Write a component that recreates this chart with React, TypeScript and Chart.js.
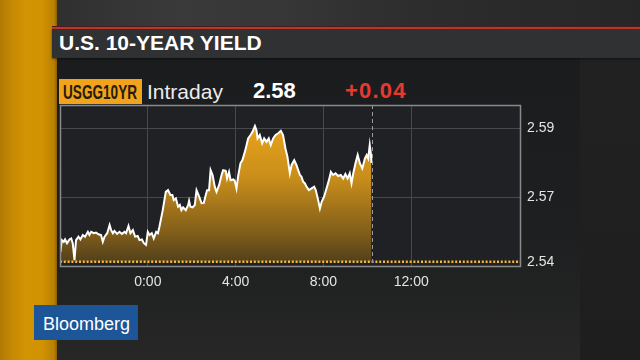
import React, { useEffect, useRef } from "react";
import { Chart, registerables } from "chart.js";

Chart.register(...registerables);

const TITLE = "U.S. 10-YEAR YIELD";
const TICKER = "USGG10YR";
const PERIOD = "Intraday";
const LAST_VALUE = "2.58";
const NET_CHANGE = "+0.04";
const PREV_CLOSE_LABEL = "2.54";
const BRAND = "Bloomberg";

// time in hours relative to midnight (negative = previous evening)
const HOURS = [
  -3.98, -3.92, -3.83, -3.77, -3.68, -3.57, -3.49, -3.42, -3.34, -3.27,
  -3.16, -3.07, -2.96, -2.86, -2.73, -2.66, -2.58, -2.46, -2.36, -2.25,
  -2.13, -2.05, -1.97, -1.85, -1.74, -1.67, -1.59, -1.52, -1.4, -1.29,
  -1.18, -1.06, -0.99, -0.88, -0.79, -0.68, -0.58, -0.46, -0.38, -0.27,
  -0.18, -0.08, 0.0, 0.08, 0.18, 0.27, 0.38, 0.46, 0.53, 0.68,
  0.82, 0.92, 1.03, 1.12, 1.18, 1.28, 1.38, 1.46, 1.53, 1.61,
  1.73, 1.84, 1.88, 1.94, 2.04, 2.14, 2.22, 2.34, 2.45, 2.55,
  2.64, 2.7, 2.79, 2.86, 2.95, 3.05, 3.13, 3.25, 3.36, 3.43,
  3.55, 3.61, 3.7, 3.77, 3.89, 3.96, 4.04, 4.11, 4.22, 4.31,
  4.42, 4.5, 4.57, 4.68, 4.77, 4.88, 4.95, 5.0, 5.1, 5.21,
  5.3, 5.41, 5.51, 5.6, 5.71, 5.82, 5.94, 6.06, 6.16, 6.27,
  6.36, 6.47, 6.55, 6.67, 6.77, 6.85, 6.93, 7.0, 7.08, 7.15,
  7.23, 7.34, 7.46, 7.58, 7.65, 7.76, 7.84, 7.92, 8.03, 8.14,
  8.25, 8.34, 8.44, 8.55, 8.67, 8.79, 8.9, 9.0, 9.1, 9.2,
  9.28, 9.36, 9.46, 9.56, 9.66, 9.77, 9.89, 9.97, 10.04, 10.11,
  10.16, 10.19,
];

const YIELDS = [
  2.5541, 2.5575, 2.557, 2.5577, 2.5566, 2.5577, 2.558, 2.5566, 2.5517, 2.5575,
  2.5585, 2.5577, 2.559, 2.5585, 2.5599, 2.559, 2.5599, 2.5595, 2.5597, 2.5592,
  2.559, 2.557, 2.5585, 2.5595, 2.5619, 2.5604, 2.5595, 2.5602, 2.5593, 2.5599,
  2.5593, 2.5599, 2.5595, 2.5616, 2.5595, 2.5604, 2.5585, 2.5587, 2.5575, 2.5577,
  2.5566, 2.5561, 2.5599, 2.559, 2.5595, 2.558, 2.5599, 2.5595, 2.5614, 2.5662,
  2.5715, 2.572, 2.5706, 2.5706, 2.5691, 2.5696, 2.5672, 2.5677, 2.5662, 2.567,
  2.5662, 2.5677, 2.5689, 2.5672, 2.567, 2.5677, 2.572, 2.5701, 2.5682, 2.5683,
  2.5706, 2.572, 2.572, 2.5778, 2.5764, 2.573, 2.5715, 2.5735, 2.5764, 2.5778,
  2.5776, 2.5754, 2.5773, 2.5749, 2.5751, 2.5747, 2.5725, 2.5759, 2.5798, 2.5807,
  2.5831, 2.5851, 2.587, 2.588, 2.5889, 2.5906, 2.5894, 2.587, 2.588, 2.5856,
  2.587, 2.586, 2.587, 2.5851, 2.587, 2.588, 2.5885, 2.5892, 2.588, 2.5841,
  2.5817, 2.5769, 2.5793, 2.5807, 2.5793, 2.5778, 2.5764, 2.5759, 2.5744, 2.574,
  2.573, 2.572, 2.5725, 2.573, 2.572, 2.5691, 2.5667, 2.5686, 2.5701, 2.5725,
  2.5749, 2.5773, 2.5764, 2.5769, 2.5761, 2.5764, 2.5754, 2.5767, 2.5754, 2.5769,
  2.574, 2.5769, 2.5798, 2.5822, 2.5798, 2.5783, 2.5812, 2.5822, 2.5812, 2.5851,
  2.5827, 2.5799,
];

const X_TICKS = [0, 4, 8, 12];
const X_LABELS = ["0:00", "4:00", "8:00", "12:00"];
const X_MIN = -4;
const X_MAX = 17;
const Y_TICKS = [2.57, 2.59];
const Y_MIN = 2.5497;
const Y_MAX = 2.5967;
// previous close (2.54) is below the visible range; it is pinned at the chart floor
const BASELINE = 2.5512;
const NOW_HOUR = 10.2;

const FONT = "'Liberation Sans', Arial, Helvetica, sans-serif";

const framePlugin = {
  id: "frame",
  beforeDraw(chart: any) {
    const { ctx, chartArea: a } = chart;
    ctx.save();
    ctx.fillStyle = "#1f2124";
    ctx.fillRect(a.left, a.top, a.right - a.left, a.bottom - a.top);
    ctx.restore();
  },
  afterDatasetsDraw(chart: any) {
    const { ctx, chartArea: a, scales } = chart;
    const x = Math.round(scales.x.getPixelForValue(NOW_HOUR)) + 0.5;
    ctx.save();
    ctx.strokeStyle = "#9a9a9a";
    ctx.lineWidth = 1;
    ctx.setLineDash([4, 3]);
    ctx.beginPath();
    ctx.moveTo(x, a.top);
    ctx.lineTo(x, a.bottom);
    ctx.stroke();
    ctx.setLineDash([]);
    ctx.strokeStyle = "#8a8a8a";
    ctx.lineWidth = 1.5;
    ctx.strokeRect(a.left + 0.5, a.top + 0.5, a.right - a.left - 1, a.bottom - a.top - 1);
    ctx.restore();
  },
};

function YieldChart() {
  const ref = useRef<HTMLCanvasElement | null>(null);
  useEffect(() => {
    if (!ref.current) return;
    const points = HOURS.map((h, i) => ({ x: h, y: YIELDS[i] }));
    const chart = new Chart(ref.current, {
      type: "line",
      data: {
        datasets: [
          {
            data: [
              { x: X_MIN, y: BASELINE },
              { x: X_MAX, y: BASELINE },
            ],
            borderColor: "#f5b83a",
            borderWidth: 2.5,
            borderDash: [2, 1.8],
            pointRadius: 0,
            fill: false,
          },
          {
            data: points,
            borderColor: "#ffffff",
            borderWidth: 2,
            pointRadius: 0,
            tension: 0,
            fill: { value: BASELINE },
            backgroundColor: (c: any) => {
              const area = c.chart.chartArea;
              if (!area) return "#b07a18";
              const g = c.chart.ctx.createLinearGradient(0, area.top, 0, area.bottom);
              g.addColorStop(0, "#f2ab1c");
              g.addColorStop(0.45, "#c98e1a");
              g.addColorStop(0.8, "#7e5c1a");
              g.addColorStop(1, "#4a3a1b");
              return g;
            },
          },
        ],
      },
      options: {
        animation: false,
        responsive: false,
        maintainAspectRatio: false,
        layout: { padding: { left: 10, top: 15, right: 0, bottom: 0 } },
        plugins: { legend: { display: false }, tooltip: { enabled: false } },
        scales: {
          x: {
            type: "linear",
            min: X_MIN,
            max: X_MAX,
            afterBuildTicks: (s: any) => {
              s.ticks = X_TICKS.map((v) => ({ value: v }));
            },
            afterFit: (s: any) => {
              s.height = 33;
            },
            ticks: {
              color: "#e4e4e4",
              font: { family: FONT, size: 14 },
              padding: 7,
              maxRotation: 0,
              autoSkip: false,
              callback: (v: any) => {
                const i = X_TICKS.indexOf(Number(v));
                return i >= 0 ? X_LABELS[i] : "";
              },
            },
            grid: { color: "#47494d", lineWidth: 1, drawTicks: false },
            border: { display: false },
          },
          y: {
            type: "linear",
            position: "right",
            min: Y_MIN,
            max: Y_MAX,
            afterBuildTicks: (s: any) => {
              s.ticks = [BASELINE, ...Y_TICKS].map((v) => ({ value: v }));
            },
            afterFit: (s: any) => {
              s.width = 59;
            },
            ticks: {
              color: "#e4e4e4",
              font: { family: FONT, size: 14 },
              padding: 6,
              autoSkip: false,
              callback: (v: any) => {
                const n = Number(v);
                if (Math.abs(n - BASELINE) < 1e-6) return PREV_CLOSE_LABEL;
                return n.toFixed(2);
              },
            },
            grid: {
              color: (c: any) =>
                c.tick && Math.abs(c.tick.value - BASELINE) < 1e-6 ? "rgba(0,0,0,0)" : "#47494d",
              lineWidth: 1,
              drawTicks: false,
            },
            border: { display: false },
          },
        },
      },
      plugins: [framePlugin],
    } as any);
    return () => chart.destroy();
  }, []);
  return (
    <canvas
      ref={ref}
      width={530}
      height={210}
      style={{ position: "absolute", left: 50, top: 90, width: 530, height: 210, display: "block" }}
    />
  );
}

const abs = (o: React.CSSProperties): React.CSSProperties => ({ position: "absolute", ...o });

export default function App() {
  return (
    <div
      style={{
        position: "fixed",
        left: 0,
        top: 0,
        width: 640,
        height: 360,
        overflow: "hidden",
        background: "#232425",
        fontFamily: FONT,
      }}
    >
      {/* top backdrop */}
      <div
        style={abs({
          left: 0,
          top: 0,
          width: 640,
          height: 28,
          background:
            "linear-gradient(to right, #2b2b2b 0%, #333 15%, #3a3a3a 28%, #363636 45%, #2d2d2d 65%, #262626 100%)",
        })}
      />
      {/* panel */}
      <div
        style={abs({
          left: 57,
          top: 58,
          width: 523,
          height: 302,
          background: "linear-gradient(to bottom, #1b1c1e 0%, #1e1f20 60%, #272727 100%)",
        })}
      />
      {/* right side */}
      <div
        style={abs({
          left: 580,
          top: 58,
          width: 60,
          height: 302,
          background: "linear-gradient(to bottom, #212121, #1e1e1e)",
        })}
      />
      {/* orange stripe */}
      <div
        style={abs({
          left: 0,
          top: 0,
          width: 57,
          height: 360,
          background:
            "linear-gradient(to right, #b27a04 0%, #c48804 20%, #d29402 45%, #d09200 75%, #b87f02 95%, #8a5e00 100%)",
        })}
      />
      {/* red rule */}
      <div style={abs({ left: 52, top: 26, width: 588, height: 1, background: "#4a1c1a" })} />
      <div style={abs({ left: 52, top: 27, width: 588, height: 2.5, background: "#c2342c" })} />
      {/* title bar */}
      <div
        style={abs({
          left: 52,
          top: 29,
          width: 588,
          height: 29,
          background: "#2f3133",
          boxShadow: "0 1px 2px rgba(0,0,0,0.5)",
        })}
      />
      <div
        style={abs({
          left: 59,
          top: 32,
          fontSize: 21,
          lineHeight: "21px",
          fontWeight: 700,
          color: "#ffffff",
          whiteSpace: "nowrap",
        })}
      >
        {TITLE}
      </div>
      {/* header row */}
      <div style={abs({ left: 59, top: 79, width: 83, height: 25, background: "#f2a31b" })} />
      <div
        style={abs({
          left: 63,
          top: 82,
          fontSize: 20,
          lineHeight: "20px",
          fontWeight: 700,
          color: "#241c0e",
          whiteSpace: "nowrap",
          transform: "scaleX(0.68)",
          transformOrigin: "left center",
        })}
      >
        {TICKER}
      </div>
      <div
        style={abs({ left: 147, top: 81, fontSize: 21, lineHeight: "21px", color: "#ececec", whiteSpace: "nowrap" })}
      >
        {PERIOD}
      </div>
      <div
        style={abs({
          left: 253,
          top: 80,
          fontSize: 22,
          lineHeight: "22px",
          fontWeight: 700,
          color: "#ffffff",
          whiteSpace: "nowrap",
        })}
      >
        {LAST_VALUE}
      </div>
      <div
        style={abs({
          left: 345,
          top: 80,
          fontSize: 22,
          lineHeight: "22px",
          fontWeight: 700,
          color: "#e8392f",
          letterSpacing: 1.2,
          whiteSpace: "nowrap",
        })}
      >
        {NET_CHANGE}
      </div>
      <YieldChart />
      {/* brand */}
      <div style={abs({ left: 34, top: 305, width: 104, height: 35, background: "#1c5598" })} />
      <div
        style={abs({ left: 43, top: 315, fontSize: 18, lineHeight: "18px", color: "#ffffff", whiteSpace: "nowrap" })}
      >
        {BRAND}
      </div>
    </div>
  );
}
